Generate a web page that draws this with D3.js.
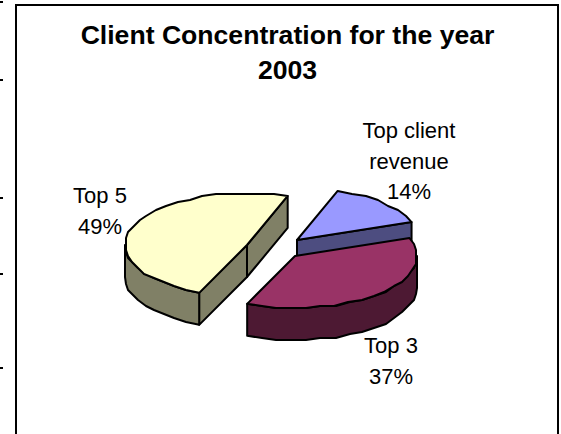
<!DOCTYPE html>
<html>
<head>
<meta charset="utf-8">
<script src="https://cdn.jsdelivr.net/npm/d3@7"></script>
<style>
html,body{margin:0;padding:0;background:#fff;}
svg{display:block;}
text{font-family:"Liberation Sans",Arial,sans-serif;fill:#000;}
</style>
</head>
<body>
<script>
const titleLines = ["Client Concentration for the year", "2003"];
const categories = ["Top client revenue", "Top 3", "Top 5"];
const shares = [14, 37, 49];
const topColors = ["#9999FF", "#993366", "#FFFFCC"];
const sideColors = ["#4D4D80", "#4D1933", "#808066"];
const labelLines = [["Top client", "revenue", "14%"], ["Top 3", "37%"], ["Top 5", "49%"]];
const sliceCentres = [[297, 240], [295, 256], [247, 245]];
const labelAnchors = [[409, 138], [391, 353], [100, 203]];
const edgeTicks = [2, 80, 198, 274, 368];

const W = 561, H = 434, RX = 122, RY = 52, DEPTH = 32;
const svg = d3.select("body").append("svg").attr("width", W).attr("height", H);

// Chart frame, open at the bottom, with the stubs of the neighbouring sheet grid.
svg.append("path")
  .attr("d", d3.line()([[16, H], [16, 5], [558, 5], [558, H]]))
  .attr("fill", "none").attr("stroke", "#000").attr("stroke-width", 2);
svg.selectAll("line.stub").data(edgeTicks).join("line").attr("class", "stub")
  .attr("x1", 0).attr("x2", 3).attr("y1", d => d).attr("y2", d => d)
  .attr("stroke", "#000").attr("stroke-width", 2);

// Title
svg.selectAll("text.title").data(titleLines).join("text").attr("class", "title")
  .attr("x", 287.5).attr("y", (d, i) => 44 + i * 35)
  .attr("text-anchor", "middle").attr("font-size", 26.6).attr("font-weight", "bold")
  .text(d => d);

// Pie angles; the first slice starts a little clockwise of twelve o'clock.
const arcs = d3.pie().sort(null).startAngle(0.34).endAngle(0.34 + 2 * Math.PI)(shares);

// Rim outline on the tilted disc, with coordinates snapped to a coarse plotting grid.
const GRID = 2;
const snap = v => Math.round(v / GRID) * GRID;
function rim(a0, a1, i) {
  const [cx, cy] = sliceCentres[i];
  const n = Math.max(1, Math.round((a1 - a0) / 0.12));
  return d3.range(n + 1).map(k => {
    const a = a0 + (a1 - a0) * k / n;
    const p = [cx + RX * Math.sin(a), cy - RY * Math.cos(a)];
    return (k === 0 || k === n) ? p : [snap(p[0]), snap(p[1])];
  });
}
const line = d3.line();
const closed = pts => line(pts) + "Z";
const drop = pts => pts.map(([x, y]) => [x, y + DEPTH]);

function piece(g, pts, fill) {
  g.append("path").attr("d", closed(pts)).attr("fill", fill)
    .attr("stroke", "#000").attr("stroke-width", 2)
    .attr("stroke-linejoin", "round");
}

// Drawn back to front so the nearer slices cover the walls behind them.
[0, 2, 1].forEach(i => {
  const g = svg.append("g");
  const {startAngle: a0, endAngle: a1} = arcs[i];
  const c = sliceCentres[i];
  const side = sideColors[i];
  const point = a => [c[0] + RX * Math.sin(a), c[1] - RY * Math.cos(a)];
  const cutFace = a => piece(g, [c, point(a), [point(a)[0], point(a)[1] + DEPTH], [c[0], c[1] + DEPTH]], side);

  // Cut faces that look toward the viewer.
  if (i === 0) cutFace(a1);
  if (i === 2) { cutFace(a1); cutFace(a0); }

  // Outer wall: only the part of the rim on the near half of the disc.
  const w0 = Math.max(a0, Math.PI / 2), w1 = Math.min(a1, 3 * Math.PI / 2);
  if (w1 > w0) {
    const r = rim(w0, w1, i);
    piece(g, r.concat(drop(r).reverse()), side);
  }

  // Top face
  piece(g, [c].concat(rim(a0, a1, i)), topColors[i]);
});

// Data labels
labelLines.forEach((lines, i) => {
  svg.append("text")
    .attr("text-anchor", "middle").attr("font-size", 22)
    .selectAll("tspan").data(lines).join("tspan")
    .attr("x", labelAnchors[i][0])
    .attr("y", (d, k) => labelAnchors[i][1] + k * 30.5)
    .text(d => d);
});
</script>
</body>
</html>
